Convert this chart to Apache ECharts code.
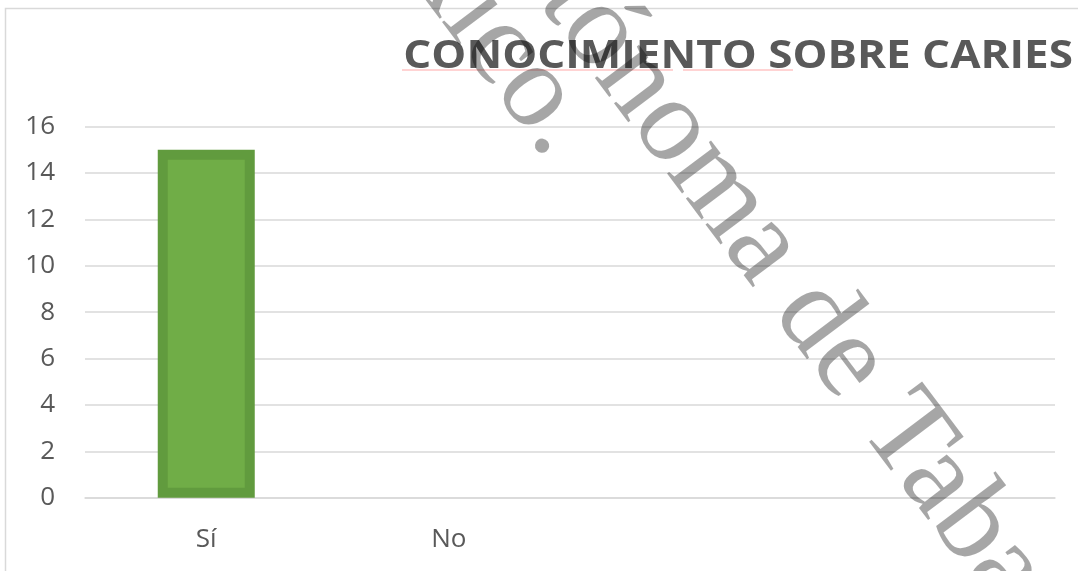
<!DOCTYPE html>
<html>
<head>
<meta charset="utf-8">
<script src="https://cdn.jsdelivr.net/npm/echarts@6/dist/echarts.min.js"></script>
<style>
html,body{margin:0;padding:0;background:#fff;}
#chart{width:1078px;height:571px;}
</style>
</head>
<body>
<div id="chart"></div>
<script>
const categories = ['Sí', 'No', '', ''];
const values = [15, null, null, null];
const yTicks = { min: 0, max: 16, interval: 2 };
const titleText = 'CONOCIMIENTO SOBRE CARIES';
const watermarkLine1 = 'Autónoma de Tabasco.';
const watermarkLine2 = 'México.';

const chart = echarts.init(document.getElementById('chart'), null, { renderer: 'canvas' });
const d2r = Math.PI / 180;
const wmAngle = -53 * d2r;

chart.setOption({
  animation: false,
  backgroundColor: '#ffffff',
  grid: { left: 85, right: 23, top: 126.5, bottom: 73.3, containLabel: false },
  xAxis: {
    type: 'category',
    data: categories,
    axisLine: { show: true, lineStyle: { color: '#d9d9d9', width: 1.5 } },
    axisTick: { show: false },
    axisLabel: { color: '#595959', fontFamily: 'Open Sans', fontSize: 26, margin: 29 }
  },
  yAxis: {
    type: 'value',
    min: yTicks.min, max: yTicks.max, interval: yTicks.interval,
    axisLine: { show: false },
    axisTick: { show: false },
    splitLine: { lineStyle: { color: '#d9d9d9', width: 1.5 } },
    axisLabel: { color: '#595959', fontFamily: 'Open Sans', fontSize: 26, margin: 30 }
  },
  series: [{
    type: 'bar',
    data: values,
    barWidth: '40%',
    itemStyle: { color: '#70ad47', borderColor: '#619b3e', borderWidth: 10 }
  }],
  graphic: [
    { type: 'rect', silent: true, shape: { x: 5.5, y: 8.5, width: 1300, height: 800 },
      style: { fill: 'none', stroke: '#d9d9d9', lineWidth: 1.5 } },
    { type: 'text', silent: true, x: 1073, y: 57, scaleX: 1.1,
      style: { text: titleText, fill: '#595959', font: 'bold 40px "Open Sans"', textAlign: 'right', textVerticalAlign: 'middle' } },
    { type: 'line', silent: true, shape: { x1: 402, y1: 70, x2: 673, y2: 70 },
      style: { stroke: 'rgba(255,0,0,0.35)', lineWidth: 1 } },
    { type: 'line', silent: true, shape: { x1: 683, y1: 70, x2: 793, y2: 70 },
      style: { stroke: 'rgba(255,0,0,0.35)', lineWidth: 1 } },
    { type: 'text', silent: true, x: 474, y: -135, rotation: wmAngle, z: 100,
      style: { text: watermarkLine1, fill: 'rgba(0,0,0,0.35)', font: '120px "Liberation Serif"', textAlign: 'left', textVerticalAlign: 'middle' } },
    { type: 'text', silent: true, x: 572, y: 142, rotation: wmAngle, z: 100,
      style: { text: watermarkLine2, fill: 'rgba(0,0,0,0.35)', font: '120px "Liberation Serif"', textAlign: 'right', textVerticalAlign: 'middle' } }
  ]
});
</script>
</body>
</html>
